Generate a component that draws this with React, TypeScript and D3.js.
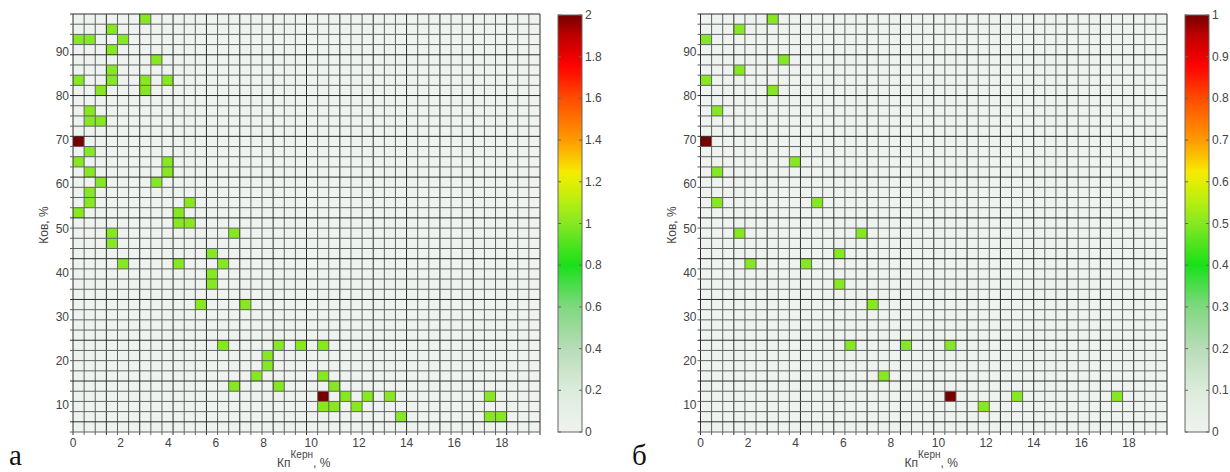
import React, { useEffect, useRef } from "react";
import * as d3 from "d3";

// panel "а": filled cells (Кп керн, Ков, count)
const kpA = [3.0, 1.6, 0.2, 0.7, 2.1, 1.6, 3.5, 1.6, 1.6, 0.2, 3.0, 4.0, 3.0, 1.2, 0.7, 0.7, 1.2,
  0.2, 0.7, 0.2, 4.0, 4.0, 0.7, 1.2, 3.5, 0.7, 0.7, 4.9, 0.2, 4.4, 4.4, 4.9, 1.6, 1.6, 6.8,
  2.1, 4.4, 6.3, 5.8, 5.8, 5.8, 5.4, 7.2, 6.3, 8.6, 9.6, 10.5, 8.2, 8.2, 7.7, 10.5, 6.8, 8.6,
  11.0, 10.5, 11.4, 12.4, 13.3, 17.5, 10.5, 11.0, 11.9, 13.8, 17.5, 18.0];
const kovA = [97.5, 95.1, 92.8, 92.8, 92.8, 90.5, 88.2, 85.9, 83.6, 83.6, 83.6, 83.6, 81.3, 81.3, 76.7, 74.4, 74.4,
  69.7, 67.4, 65.1, 65.1, 62.8, 62.8, 60.5, 60.5, 58.2, 55.9, 55.9, 53.6, 53.6, 51.2, 51.2, 48.9, 46.6, 48.9,
  42.0, 42.0, 42.0, 44.3, 39.7, 37.4, 32.8, 32.8, 23.5, 23.5, 23.5, 23.5, 21.2, 18.9, 16.6, 16.6, 14.3, 14.3,
  14.3, 12.0, 12.0, 12.0, 12.0, 12.0, 9.7, 9.7, 9.7, 7.4, 7.4, 7.4];
const countA = kpA.map((_, i) => (i === 17 || i === 54 ? 2 : 1));

// panel "б": normalised values
const kpB = [3.0, 1.6, 0.2, 3.5, 1.6, 0.2, 3.0, 0.7, 0.2, 4.0, 0.7, 0.7, 4.9, 1.6, 6.8, 5.8, 2.1, 4.4,
  5.8, 7.2, 6.3, 8.6, 10.5, 7.7, 10.5, 11.9, 13.3, 17.5];
const kovB = [97.5, 95.1, 92.8, 88.2, 85.9, 83.6, 81.3, 76.7, 69.7, 65.1, 62.8, 55.9, 55.9, 48.9, 48.9, 44.3, 42.0, 42.0,
  37.4, 32.8, 23.5, 23.5, 23.5, 16.6, 12.0, 9.7, 12.0, 12.0];
const valB = [0.5, 0.5, 0.5, 0.5, 0.5, 0.5, 0.5, 0.5, 1, 0.5, 0.5, 0.5, 0.5, 0.5, 0.5, 0.5, 0.5, 0.5,
  0.5, 0.5, 0.5, 0.5, 0.5, 0.5, 1, 0.5, 0.5, 0.5];

const xTicks = [0, 2, 4, 6, 8, 10, 12, 14, 16, 18];
const yTicks = [10, 20, 30, 40, 50, 60, 70, 80, 90];
const cbTicksA = [0, 0.2, 0.4, 0.6, 0.8, 1, 1.2, 1.4, 1.6, 1.8, 2];
const cbTicksB = [0, 0.1, 0.2, 0.3, 0.4, 0.5, 0.6, 0.7, 0.8, 0.9, 1];

const X0 = 0, X1 = 19.6, NX = 42;
const Y0 = 3.9, Y1 = 98.6, NY = 41;

const stops = [0, 0.1, 0.2, 0.3, 0.4, 0.5, 0.55, 0.62, 0.7, 0.8, 0.88, 0.95, 1];
const stopColors = ["#eff3ef", "#dcecdc", "#b8dcb8", "#80d880", "#18e018", "#86e822", "#b4ee10",
  "#f6ee00", "#ff9a00", "#ff4c00", "#ff0000", "#c00000", "#760000"];
const cmap = d3.scaleLinear<string>().domain(stops).range(stopColors).interpolate(d3.interpolateRgb);

const FONT = "Liberation Sans, Arial, sans-serif";

function drawPanel(svg, o) {
  const { left, right, top, bottom, kp, kov, val, vmax, cbX, cbTicks, letter, letterX, id } = o;
  const x = d3.scaleLinear().domain([X0, X1]).range([left, right]);
  const y = d3.scaleLinear().domain([Y0, Y1]).range([bottom, top]);
  const dx = (X1 - X0) / NX, dy = (Y1 - Y0) / NY;
  const g = svg.append("g");

  g.append("rect").attr("x", left).attr("y", top)
    .attr("width", right - left).attr("height", bottom - top).attr("fill", cmap(0));

  const cells = kp.map((k, i) => ({
    c: Math.floor((k - X0) / dx),
    r: Math.floor((kov[i] - Y0) / dy),
    v: val[i],
  }));
  g.selectAll("rect.cell").data(cells).enter().append("rect")
    .attr("class", "cell")
    .attr("x", d => x(X0 + d.c * dx))
    .attr("y", d => y(Y0 + (d.r + 1) * dy))
    .attr("width", x(dx) - x(0))
    .attr("height", y(0) - y(dy))
    .attr("fill", d => cmap(d.v / vmax));

  const xe = d3.range(NX + 1).map(i => X0 + i * dx);
  const ye = d3.range(NY + 1).map(i => Y0 + i * dy);
  g.selectAll("line.v").data(xe).enter().append("line")
    .attr("x1", d => x(d)).attr("x2", d => x(d))
    .attr("y1", top).attr("y2", bottom + 3)
    .attr("stroke", (d, i) => (i % 3 === 0 ? "#2e2e2e" : "#626262")).attr("stroke-width", 1);
  g.selectAll("line.h").data(ye).enter().append("line")
    .attr("y1", d => y(d)).attr("y2", d => y(d))
    .attr("x1", left - 3).attr("x2", right)
    .attr("stroke", (d, i) => (i % 4 === 1 ? "#2e2e2e" : "#626262")).attr("stroke-width", 1);

  g.selectAll("text.xt").data(xTicks).enter().append("text")
    .attr("x", d => x(d)).attr("y", 447).attr("text-anchor", "middle")
    .attr("font-family", FONT).attr("font-size", 12).attr("fill", "#444").text(d => d);
  g.selectAll("text.yt").data(yTicks).enter().append("text")
    .attr("x", left - 4).attr("y", d => y(d) + 4).attr("text-anchor", "end")
    .attr("font-family", FONT).attr("font-size", 12).attr("fill", "#444").text(d => d);

  const xl = g.append("text").attr("x", left + 204).attr("y", 467)
    .attr("font-family", FONT).attr("font-size", 12).attr("fill", "#444");
  xl.append("tspan").text("Кп");
  xl.append("tspan").attr("dy", -9).attr("font-size", 10).text("Керн");
  xl.append("tspan").attr("dy", 9).text(", %");

  g.append("text").attr("transform", `translate(${left - 25},225) rotate(-90)`)
    .attr("text-anchor", "middle").attr("font-family", FONT).attr("font-size", 12)
    .attr("fill", "#444").text("Ков, %");

  g.append("text").attr("x", letterX).attr("y", 465)
    .attr("font-family", "Liberation Serif, Times New Roman, serif").attr("font-size", 29)
    .attr("fill", "#111").text(letter);

  // colorbar
  const cbW = 24, cbTop = 15, cbBot = 432;
  const cy = d3.scaleLinear().domain([0, vmax]).range([cbBot, cbTop]);
  const grad = svg.append("defs").append("linearGradient").attr("id", id)
    .attr("x1", 0).attr("y1", 1).attr("x2", 0).attr("y2", 0);
  d3.range(0, 1.0001, 0.025).forEach(t => {
    grad.append("stop").attr("offset", t).attr("stop-color", cmap(t));
  });
  g.append("rect").attr("x", cbX).attr("y", cbTop).attr("width", cbW).attr("height", cbBot - cbTop)
    .attr("fill", `url(#${id})`).attr("stroke", "#666").attr("stroke-width", 1);
  g.selectAll("line.cbl").data(cbTicks).enter().append("line")
    .attr("x1", cbX).attr("x2", cbX + 3).attr("y1", d => cy(d)).attr("y2", d => cy(d))
    .attr("stroke", "#666");
  g.selectAll("line.cbr").data(cbTicks).enter().append("line")
    .attr("x1", cbX + cbW - 3).attr("x2", cbX + cbW).attr("y1", d => cy(d)).attr("y2", d => cy(d))
    .attr("stroke", "#666");
  g.selectAll("text.cbt").data(cbTicks).enter().append("text")
    .attr("x", cbX + cbW + 3).attr("y", d => cy(d) + 4)
    .attr("font-family", FONT).attr("font-size", 12).attr("fill", "#444").text(d => d);
}

const App = () => {
  const ref = useRef(null);

  useEffect(() => {
    const svg = d3.select(ref.current);
    svg.selectAll("*").remove();
    svg.append("rect").attr("width", 1230).attr("height", 472).attr("fill", "#fff");

    drawPanel(svg, {
      left: 73, right: 540, top: 14, bottom: 432,
      kp: kpA, kov: kovA, val: countA, vmax: 2,
      cbX: 558, cbTicks: cbTicksA, letter: "а", letterX: 9, id: "cbA",
    });
    drawPanel(svg, {
      left: 700.5, right: 1167, top: 14, bottom: 432,
      kp: kpB, kov: kovB, val: valB, vmax: 1,
      cbX: 1185, cbTicks: cbTicksB, letter: "б", letterX: 632, id: "cbB",
    });
  }, []);

  return (
    <svg ref={ref} width={1230} height={472}
      style={{ position: "absolute", left: 0, top: 0, display: "block" }} />
  );
};

export default App;
